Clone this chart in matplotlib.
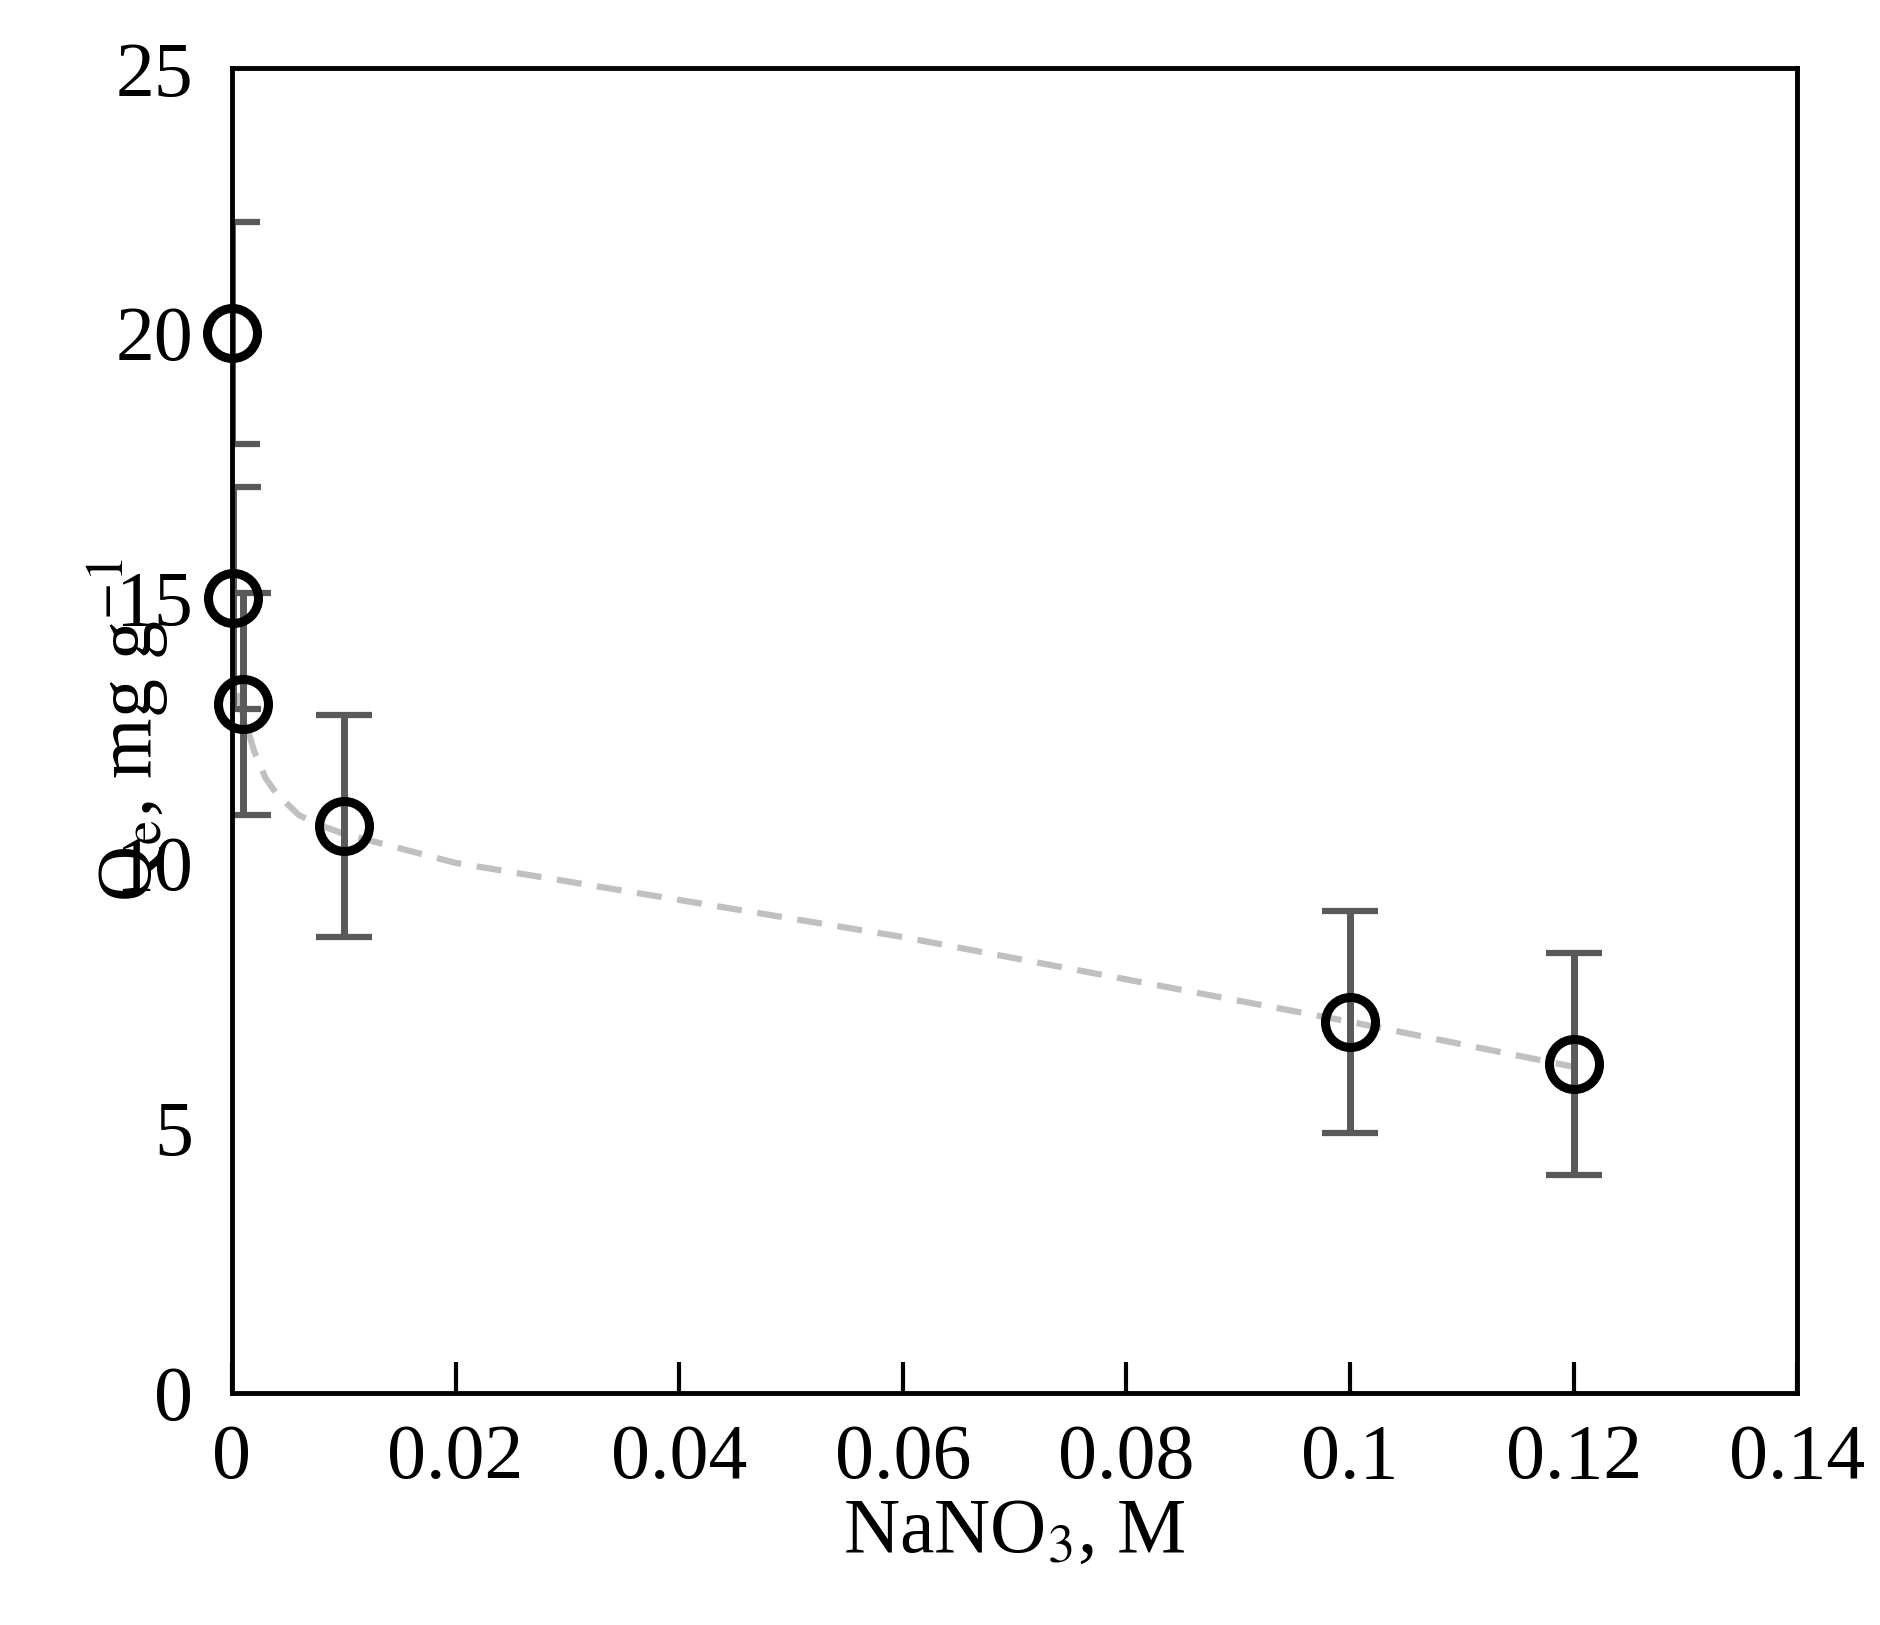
import numpy as np
import matplotlib.pyplot as plt

plt.rcParams['font.family'] = ['Liberation Serif', 'DejaVu Serif']
plt.rcParams['mathtext.fontset'] = 'stix'

# measured points
conc = [0.0, 0.0001, 0.001, 0.01, 0.1, 0.12]
qe = [20.0, 15.0, 13.0, 10.7, 7.0, 6.2]
err = [2.1, 2.1, 2.1, 2.1, 2.1, 2.1]

# fitted trend (dashed)
fit_x = [0.0005, 0.001, 0.002, 0.003, 0.004, 0.006, 0.008, 0.01, 0.02, 0.04, 0.06, 0.08, 0.1, 0.12]
fit_y = [13.2, 12.8, 12.1, 11.6, 11.3, 10.9, 10.7, 10.55, 10.0, 9.3, 8.6, 7.8, 7.0, 6.15]

fig = plt.figure(figsize=(18.8, 16.25), dpi=100)
ax = fig.add_axes([0.1234, 0.143, 0.8326, 0.815])

ax.plot(fit_x, fit_y, '--', color='#c0c0c0', lw=4.5, dashes=(4, 2.5), zorder=1)
ax.errorbar(conc, qe, yerr=err, fmt='none', ecolor='#595959', elinewidth=5,
            capsize=20, capthick=4.5, zorder=2)
ax.plot(conc, qe, 'o', ms=36, mfc='none', mec='black', mew=6.5, zorder=3, clip_on=False)

ax.set_xlim(0, 0.14)
ax.set_ylim(0, 25)
ax.set_xticks(np.arange(0, 0.141, 0.02))
ax.set_xticklabels(['0', '0.02', '0.04', '0.06', '0.08', '0.1', '0.12', '0.14'])
ax.set_yticks(range(0, 26, 5))
ax.tick_params(axis='x', direction='in', length=22, width=3, labelsize=56, pad=22)
ax.tick_params(axis='y', length=0, labelsize=56, pad=28)
for s in ax.spines.values():
    s.set_linewidth(3.5)

ax.set_xlabel('NaNO$_3$, M', fontsize=56, labelpad=2)
ax.set_ylabel('Q$_\\mathrm{e}$, mg g$^{-1}$', fontsize=56, labelpad=-40)

fig.savefig('out.png', dpi=100)
